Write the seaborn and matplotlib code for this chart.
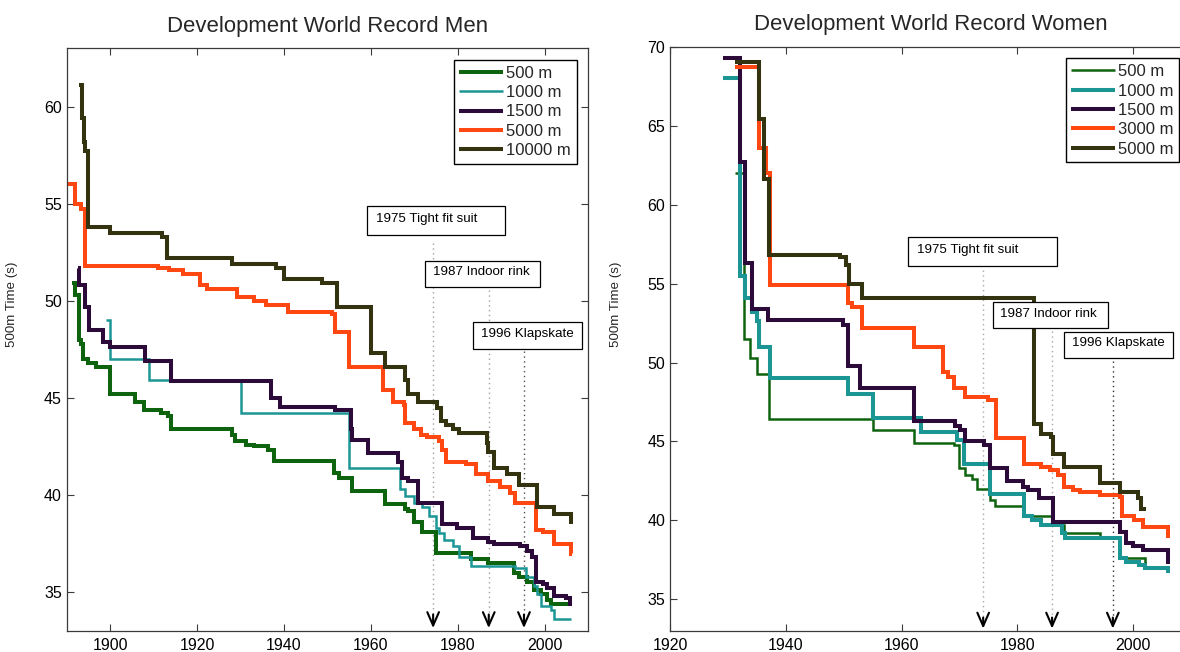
import matplotlib
matplotlib.use('Agg')
import matplotlib.pyplot as plt
from matplotlib.patches import Rectangle
import seaborn as sns

# world record development, 500m-average time (s) from the year a record was set
# (last entry of each series only extends the final step)
men_500_year = [1891.2, 1891.9, 1892.9, 1893.3, 1893.8, 1894.9, 1896.8, 1900.0, 1905.8, 1907.7,
                1911.6, 1913.2, 1914.0, 1928.0, 1928.8, 1931.2, 1933.1, 1936.2, 1937.8, 1951.4,
                1952.6, 1955.7, 1963.2, 1967.8, 1968.6, 1969.8, 1971.8, 1974.9, 1983.1, 1987.0,
                1992.8, 1994.0, 1995.9, 1997.5, 1999.1, 2000.6, 2001.4, 2006.1]
men_500_time = [50.9, 50.3, 48.0, 47.8, 47.0, 46.8, 46.6, 45.2, 44.8, 44.4,
                44.2, 44.06, 43.4, 43.1, 42.8, 42.6, 42.5, 42.3, 41.75, 41.15,
                40.9, 40.2, 39.55, 39.3, 39.2, 38.6, 38.1, 37.0, 36.7, 36.5,
                36.0, 35.8, 35.5, 35.1, 34.9, 34.6, 34.4, 34.4]

men_1000_year = [1899.1, 1899.9, 1908.9, 1930.0, 1955.0, 1966.7, 1967.9, 1969.8, 1971.8, 1973.3,
                 1974.9, 1975.6, 1976.8, 1978.8, 1980.3, 1983.1, 1993.2, 1995.6, 1997.5, 1998.3,
                 1999.1, 2001.4, 2002.2, 2006.1]
men_1000_time = [49.0, 47.0, 45.9, 44.2, 41.4, 40.3, 39.95, 39.6, 39.4, 38.9,
                 38.3, 38.05, 37.7, 37.4, 36.8, 36.35, 36.25, 35.8, 35.3, 34.9,
                 34.3, 34.1, 33.6, 33.6]

men_1500_year = [1892.7, 1892.8, 1894.3, 1895.2, 1898.4, 1900.0, 1908.1, 1914.0, 1937.0, 1939.0,
                 1951.8, 1955.3, 1955.7, 1959.3, 1966.3, 1967.1, 1968.6, 1970.9, 1976.4, 1979.9,
                 1983.4, 1987.0, 1988.2, 1994.4, 1995.9, 1997.1, 1997.9, 1999.5, 2000.6, 2002.2,
                 2004.9, 2005.7, 2006.2]
men_1500_time = [51.7, 50.8, 49.7, 48.5, 47.9, 47.6, 46.9, 45.85, 45.0, 44.55,
                 44.4, 43.4, 42.85, 42.15, 41.7, 40.9, 40.7, 39.6, 38.5, 38.3,
                 37.8, 37.6, 37.5, 37.4, 37.1, 36.8, 35.5, 35.4, 35.2, 34.8,
                 34.7, 34.4, 34.4]

men_5000_year = [1889.9, 1892.0, 1893.3, 1894.1, 1910.9, 1913.6, 1916.7, 1920.6, 1922.2, 1929.2,
                 1933.1, 1935.8, 1940.9, 1951.0, 1951.8, 1955.0, 1962.8, 1965.1, 1967.5, 1967.9,
                 1969.8, 1971.4, 1972.9, 1975.6, 1976.4, 1977.2, 1981.9, 1984.2, 1987.0, 1989.7,
                 1992.0, 1993.2, 1997.9, 1999.5, 2002.2, 2006.1, 2006.3]
men_5000_time = [56.0, 55.0, 54.75, 51.8, 51.7, 51.6, 51.4, 50.8, 50.6, 50.2,
                 50.0, 49.8, 49.4, 49.3, 48.4, 46.6, 45.4, 44.8, 44.65, 43.7,
                 43.4, 43.1, 43.0, 42.8, 42.3, 41.7, 41.6, 41.1, 40.7, 40.4,
                 40.1, 39.6, 38.2, 38.1, 37.5, 36.95, 36.95]

men_10000_year = [1892.9, 1893.5, 1893.9, 1894.3, 1895.0, 1900.0, 1912.0, 1913.0, 1928.0, 1938.2,
                  1940.1, 1948.7, 1952.1, 1960.0, 1963.2, 1967.8, 1968.6, 1970.9, 1975.3, 1976.0,
                  1977.2, 1978.8, 1980.3, 1986.6, 1987.0, 1988.2, 1991.3, 1994.0, 1998.3, 2002.2,
                  2006.1, 2006.4]
men_10000_time = [61.1, 59.4, 58.2, 57.7, 53.8, 53.5, 53.3, 52.2, 51.9, 51.7,
                  51.1, 50.9, 49.7, 47.3, 46.6, 45.9, 45.2, 44.8, 44.5, 43.8,
                  43.6, 43.4, 43.2, 42.7, 42.2, 41.4, 41.1, 40.5, 39.4, 39.0,
                  38.6, 38.6]

women_500_year = [1931.2, 1932.7, 1933.9, 1935.1, 1937.1, 1955.0, 1962.1, 1969.0, 1970.0, 1970.9,
                  1972.1, 1973.0, 1975.2, 1976.1, 1980.9, 1986.2, 1988.0, 1994.2, 1997.8, 1998.7,
                  2002.0, 2002.3]
women_500_time = [62.0, 51.5, 50.3, 49.3, 46.45, 45.7, 44.9, 44.8, 43.3, 42.9,
                  42.6, 42.0, 41.3, 40.9, 40.3, 39.7, 39.2, 38.9, 37.7, 37.6,
                  37.3, 37.3]

women_1000_year = [1929.1, 1932.1, 1933.0, 1934.2, 1935.1, 1935.3, 1937.3, 1950.8, 1955.0, 1963.3,
                   1969.6, 1970.8, 1975.2, 1981.2, 1982.6, 1984.1, 1987.7, 1988.3, 1997.8, 1998.7,
                   2001.1, 2002.0, 2006.1, 2006.4]
women_1000_time = [68.0, 55.45, 54.1, 53.2, 52.6, 51.0, 49.0, 48.0, 46.5, 45.6,
                   45.1, 43.55, 41.7, 40.3, 40.0, 39.7, 39.2, 38.9, 37.6, 37.4,
                   37.2, 37.0, 36.8, 36.8]

women_1500_year = [1929.1, 1932.1, 1933.0, 1934.2, 1937.0, 1949.9, 1950.8, 1952.9, 1962.1, 1969.3,
                   1970.1, 1971.0, 1974.3, 1975.2, 1978.2, 1980.9, 1981.8, 1983.8, 1986.2, 1997.8,
                   1998.7, 1999.9, 2001.7, 2006.1, 2006.4]
women_1500_time = [69.3, 62.7, 56.3, 53.4, 52.7, 52.4, 49.75, 48.4, 46.3, 46.0,
                   45.7, 45.0, 44.8, 43.3, 42.5, 42.1, 41.9, 41.4, 39.9, 39.3,
                   38.6, 38.4, 38.1, 37.4, 37.4]

women_3000_year = [1931.2, 1935.3, 1936.6, 1937.2, 1950.8, 1951.4, 1953.2, 1962.1, 1967.2, 1968.1,
                   1969.0, 1971.0, 1974.9, 1976.4, 1981.2, 1984.1, 1985.6, 1987.1, 1988.0, 1989.7,
                   1990.9, 1994.2, 1997.8, 1998.1, 2000.2, 2001.7, 2006.1, 2006.4]
women_3000_time = [68.7, 63.6, 62.0, 54.9, 53.75, 53.5, 52.2, 51.0, 49.4, 49.1,
                   48.4, 47.8, 47.6, 45.2, 43.6, 43.4, 43.2, 42.9, 42.1, 41.9,
                   41.8, 41.6, 41.5, 40.3, 40.0, 39.6, 39.0, 39.0]

women_5000_year = [1931.2, 1935.3, 1936.2, 1937.1, 1949.3, 1950.4, 1951.0, 1953.2, 1982.9, 1984.1,
                   1985.9, 1986.2, 1988.0, 1994.2, 1997.8, 2000.8, 2001.3, 2002.3]
women_5000_time = [69.0, 65.4, 61.6, 56.8, 56.7, 56.2, 55.0, 54.1, 46.1, 45.5,
                   45.3, 44.2, 43.4, 42.4, 41.8, 41.4, 40.7, 40.7]

event_labels = ['1975 Tight fit suit', '1987 Indoor rink', '1996 Klapskate']

# colours
C_500 = '#0e630e'
C_1000 = '#1c9595'
C_1500 = '#2c0b3b'
C_ORANGE = '#ff4711'
C_OLIVE = '#33330f'

THICK = 2.9
THIN = 1.8

sns.set_theme(style='ticks')
plt.rcParams['font.family'] = ['Liberation Sans', 'DejaVu Sans']
plt.rcParams['axes.edgecolor'] = '#3a3a3a'
plt.rcParams['axes.linewidth'] = 0.9


def draw_panel(ax, series, title, xlim, ylim, xticks, yticks, events):
    for name, yrs, vals, color, lw in series:
        sns.lineplot(x=yrs, y=vals, ax=ax, color=color, linewidth=lw, label=name,
                     estimator=None, sort=False, drawstyle='steps-post',
                     solid_joinstyle='miter', solid_capstyle='butt')

    # annotation boxes with dotted arrows down to the x-axis
    for label, (ex, top, bx0, bx1, by0, by1, tx, dcol) in zip(event_labels, events):
        ax.plot([ex, ex], [top, ylim[0] + 0.5], ls=(0, (1, 2.5)), color=dcol, lw=1.0, zorder=1)
        ax.annotate('', xy=(ex, ylim[0] + 0.15), xytext=(ex, ylim[0] + 0.85),
                    arrowprops=dict(arrowstyle='->,head_length=0.8,head_width=0.35',
                                    color='black', lw=1.5, shrinkA=0, shrinkB=0),
                    zorder=4)
        ax.add_patch(Rectangle((bx0, by0), bx1 - bx0, by1 - by0, facecolor='white',
                               edgecolor='black', lw=0.9, zorder=5))
        ax.text(tx, by0 + 0.56 * (by1 - by0), label, fontsize=9.6, va='center',
                ha='left', color='black', zorder=6)

    ax.set_xlim(*xlim)
    ax.set_ylim(*ylim)
    ax.set_xticks(xticks)
    ax.set_yticks(yticks)
    ax.set_xlabel('')
    ax.set_ylabel('500m Time (s)', fontsize=9.6)
    ax.yaxis.set_label_coords(-0.093, 0.56)
    ax.set_title(title, fontsize=15.9, pad=11.8)
    ax.tick_params(direction='in', length=4.8, width=0.8, top=True, right=True,
                   labelsize=11.5, pad=3.5, color='#3a3a3a', labelcolor='black')
    ax.tick_params(axis='x', pad=5)

    leg = ax.legend(loc='upper right', fontsize=12, frameon=True, fancybox=False,
                    framealpha=1, edgecolor='black', borderpad=0.35, labelspacing=0.26,
                    handlelength=2.6, handletextpad=0.2, borderaxespad=0.7)
    leg.get_frame().set_linewidth(1.0)


fig = plt.figure(figsize=(11.8, 6.52), dpi=100)
ax_men = fig.add_axes([66.7 / 1180, 21 / 652, 521.6 / 1180, 582.7 / 652])
ax_women = fig.add_axes([670 / 1180, 21 / 652, 521 / 1180, 584.3 / 652])

men_series = [
    ('500 m', men_500_year, men_500_time, C_500, THICK),
    ('1000 m', men_1000_year, men_1000_time, C_1000, THIN),
    ('1500 m', men_1500_year, men_1500_time, C_1500, THICK),
    ('5000 m', men_5000_year, men_5000_time, C_ORANGE, THICK),
    ('10000 m', men_10000_year, men_10000_time, C_OLIVE, THICK),
]
women_series = [
    ('500 m', women_500_year, women_500_time, C_500, THIN),
    ('1000 m', women_1000_year, women_1000_time, C_1000, THICK),
    ('1500 m', women_1500_year, women_1500_time, C_1500, THICK),
    ('3000 m', women_3000_year, women_3000_time, C_ORANGE, THICK),
    ('5000 m', women_5000_year, women_5000_time, C_OLIVE, THICK),
]

# (arrow x, dotted line top, box x0, x1, y0, y1, text x, dot colour)
men_events = [
    (1974.3, 53.0, 1959.2, 1990.8, 53.38, 54.88, 1961.2, '#a0a0a0'),
    (1987.1, 50.55, 1972.5, 1999.0, 50.69, 52.06, 1974.3, '#a0a0a0'),
    (1995.2, 47.4, 1983.5, 2008.6, 47.53, 48.93, 1985.4, '#505050'),
]
women_events = [
    (1974.1, 55.85, 1961.1, 1986.8, 56.12, 57.97, 1962.7, '#a8a8a8'),
    (1986.0, 52.0, 1975.8, 1995.6, 52.18, 53.82, 1977.0, '#a8a8a8'),
    (1996.5, 50.1, 1988.1, 2006.9, 50.28, 51.96, 1989.5, '#303030'),
]

draw_panel(ax_men, men_series, 'Development World Record Men',
           (1890, 2010), (33, 63), [1900, 1920, 1940, 1960, 1980, 2000],
           [35, 40, 45, 50, 55, 60], men_events)
draw_panel(ax_women, women_series, 'Development World Record Women',
           (1920, 2010), (33, 70), [1920, 1940, 1960, 1980, 2000],
           [35, 40, 45, 50, 55, 60, 65, 70], women_events)

fig.savefig('out.png', dpi=100)
